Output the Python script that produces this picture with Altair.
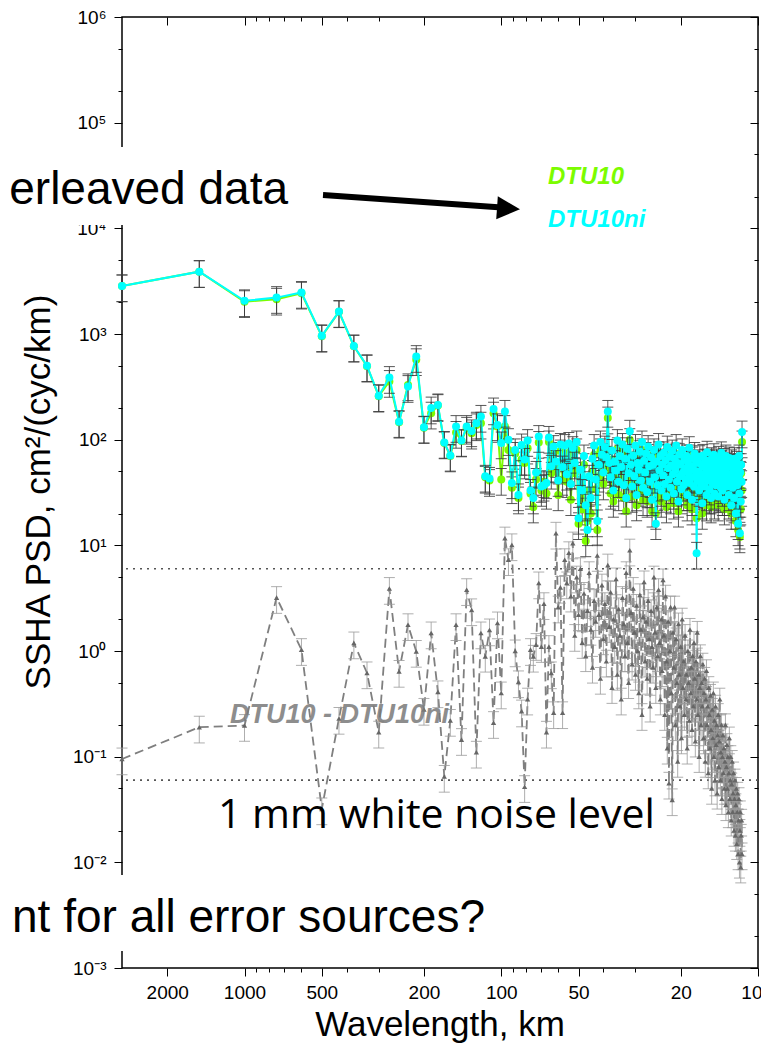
import altair as alt
import pandas as pd

# ---------------------------------------------------------------- data
RECORD_KM = 3000.0  # spectral estimates sit at wavelengths RECORD_KM / k

DTU10 = [
    2850, 3890, 2020, 2130, 2430, 950, 1620, 765, 495, 258,
    355, 146, 330, 570, 130, 178, 210, 93, 70, 117,
    97, 128, 115, 138, 143, 44, 41, 178, 133, 42,
    133, 80, 35, 74, 28, 65, 60, 83, 31, 23,
    42, 94, 33, 40, 31, 95, 48,
    74, 55, 30, 78, 42, 70, 40, 75, 27, 66,
    48, 80, 16, 35, 22, 58, 11, 17, 33, 20,
    50, 72, 34, 14, 45, 80, 55, 38, 68, 57,
    160, 52, 31, 65, 26, 50, 44, 82, 30, 58,
    43, 76, 28, 55, 21, 70, 40, 100, 47, 29,
    60, 36, 72, 24, 49, 43, 64, 33, 80, 27,
    52, 40, 62, 26, 71, 46, 32, 56, 21, 48,
    66, 36, 20, 51, 30, 75, 42, 58, 26, 47,
    38, 62, 31, 53, 23, 71, 45, 34, 57, 28,
    47, 65, 38, 25, 55, 43, 73, 33, 50, 21,
    60, 37, 48, 28, 66, 40, 30, 54, 44, 34,
    58, 24, 50, 39, 70, 32, 46, 36, 22, 55,
    43, 29, 61, 37, 50, 18, 34, 52, 41, 27,
    57, 39, 31, 48, 20, 59, 35, 46, 29, 53,
    40, 24, 63, 34, 47, 38, 28, 51, 43, 23,
    55, 32, 45, 37, 60, 25, 40, 49, 30, 53,
    36, 46, 24, 56, 41, 33, 50, 29, 62, 38,
    27, 48, 36, 54, 22, 43, 31, 58, 40, 30,
    50, 35, 45, 25, 55, 39, 32, 47, 20, 52,
    37, 29, 48, 41, 23, 55, 34, 45, 17, 40,
    50, 31, 43, 14, 36, 58, 26, 12, 41, 22,
    48, 33, 95,
]

DTU10NI = [
    2850, 3890, 2060, 2210, 2470, 960, 1630, 770, 500, 260,
    387, 148, 318, 611, 131, 199, 213, 94, 71, 133,
    98, 133, 121, 143, 166, 45, 43, 195, 138, 93,
    185, 100, 39, 80, 30, 89, 65, 98, 33, 28,
    49, 107, 36, 37, 39, 105, 56,
    86, 62, 41, 90, 55, 88, 47, 92, 38, 84,
    60, 95, 18, 52, 33, 70, 24, 14, 45, 28,
    66, 88, 42, 17, 58, 95, 72, 49, 85, 68,
    185, 60, 44, 79, 33, 62, 51, 98, 40, 70,
    55, 90, 37, 66, 28, 82, 48, 120, 58, 36,
    71, 45, 88, 30, 60, 52, 77, 41, 95, 35,
    63, 49, 74, 32, 86, 56, 40, 68, 27, 58,
    80, 44, 16, 62, 37, 90, 51, 70, 33, 58,
    46, 75, 38, 64, 29, 85, 54, 42, 69, 35,
    57, 78, 47, 31, 66, 52, 88, 40, 60, 26,
    72, 45, 58, 34, 80, 49, 37, 65, 53, 42,
    70, 30, 61, 48, 84, 39, 56, 44, 27, 67,
    52, 36, 74, 45, 60, 8.4, 41, 63, 50, 33,
    69, 47, 38, 58, 25, 71, 43, 55, 36, 64,
    49, 30, 76, 41, 57, 46, 34, 62, 52, 28,
    66, 39, 54, 45, 72, 31, 48, 59, 37, 64,
    43, 56, 29, 68, 50, 40, 61, 35, 75, 46,
    33, 58, 44, 65, 27, 52, 38, 70, 48, 36,
    60, 42, 55, 30, 67, 47, 39, 57, 24, 63,
    45, 35, 58, 50, 28, 66, 41, 54, 20, 48,
    61, 37, 52, 16, 44, 70, 31, 13, 49, 26,
    58, 40, 118,
]

DIFF = [
    0.095, 0.19, 0.197, 3.2, 1.03, 0.032, 0.23, 1.19, 0.62, 0.17,
    3.9, 0.64, 1.77, 0.99, 0.28, 1.48, 0.41, 0.065, 0.22, 1.77,
    0.145, 3.8, 2.45, 0.11, 1.48, 0.89, 1.58, 0.21, 1.84, 0.40,
    11.7, 7.3, 10.1, 1.0, 0.51, 0.27, 0.052, 0.35, 1.03, 0.89,
    1.15, 4.4, 1.1, 2.8, 0.17, 1.1, 0.62, 0.26, 13, 2.6,
    4.0, 0.26, 7.3, 4.4, 8.5, 3.3, 10.5, 1.4, 5.0, 2.2,
    6.0, 1.2, 3.5, 0.9, 2.4, 5.5, 1.6, 0.7, 3.0, 1.9,
    8.0, 2.2, 0.55, 4.2, 1.3, 2.8, 0.8, 6.5, 1.7, 3.6,
    0.45, 2.0, 1.1, 4.8, 0.6, 2.5, 1.4, 0.35, 3.2, 1.8,
    0.9, 5.5, 1.2, 0.5, 9.0, 2.3, 0.75, 3.9, 1.5, 0.6,
    2.7, 1.0, 0.4, 3.4, 1.6, 0.25, 2.1, 4.5, 0.8, 1.9,
    0.55, 3.0, 1.3, 0.3, 2.4, 1.1, 0.7, 5.0, 1.5, 0.45,
    2.6, 0.9, 3.8, 1.2, 0.35, 2.0, 0.65, 4.7, 1.4, 0.25,
    3.3, 0.8, 0.12, 1.9, 0.056, 1.0, 2.6, 0.4, 0.039, 1.5,
    0.7, 2.6, 0.2, 1.3, 0.5, 0.09, 1.8, 0.6, 0.3, 1.1,
    0.15, 2.0, 0.45, 0.8, 0.25, 1.4, 0.35, 0.6, 0.12, 1.0,
    0.5, 0.22, 1.6, 0.4, 0.7, 0.18, 0.9, 0.3, 1.2, 0.55,
    0.14, 0.8, 0.35, 1.5, 0.25, 0.6, 0.1, 0.45, 0.9, 0.2,
    0.5, 0.3, 0.75, 0.15, 0.4, 0.55, 0.09, 0.35, 0.65, 0.2,
    0.3, 0.07, 0.45, 0.25, 0.12, 0.38, 0.18, 0.05, 0.28, 0.15,
    0.4, 0.1, 0.22, 0.06, 0.3, 0.13, 0.2, 0.045, 0.16, 0.25,
    0.08, 0.14, 0.35, 0.06, 0.11, 0.2, 0.04, 0.1, 0.16, 0.07,
    0.12, 0.05, 0.09, 0.2, 0.035, 0.08, 0.13, 0.05, 0.1, 0.03,
    0.07, 0.15, 0.04, 0.06, 0.1, 0.025, 0.055, 0.09, 0.03, 0.045,
    0.07, 0.02, 0.04, 0.06, 0.018, 0.035, 0.05, 0.015, 0.03, 0.045,
    0.012, 0.025, 0.04, 0.01, 0.02, 0.03, 0.009, 0.018, 0.025, 0.012,
]

SERIES = ["DTU10", "DTU10ni", "DTU10 - DTU10ni"]
NOISE_LEVELS = [6.0, 0.06]
CI_LOW, CI_HIGH = 0.71, 1.27

X_MAJOR = [2000, 1000, 500, 200, 100, 50, 20, 10]
X_MINOR = [900, 800, 700, 600, 400, 300, 90, 80, 70, 60, 40, 30]
Y_MAJOR = [1e-3, 1e-2, 1e-1, 1e0, 1e1, 1e2, 1e3, 1e4, 1e5, 1e6]
Y_MINOR = [m * d for d in Y_MAJOR[:-1] for m in (2, 5)]

TITLE_X = "Wavelength, km"
TITLE_Y = "SSHA PSD, cm²/(cyc/km)"
SLIDE_TOP = "erleaved data"
SLIDE_BOTTOM = "nt for all error sources?"
NOISE_TEXT = "1 mm white noise level"

rows = []
for name, vals in zip(SERIES, [DTU10, DTU10NI, DIFF]):
    for k, v in enumerate(vals, start=1):
        rows.append({"series": name, "wl": RECORD_KM / k, "psd": v})
df = pd.DataFrame(rows)

# ---------------------------------------------------------------- scales / axes
XS = alt.Scale(type="log", domain=[10, 3000], reverse=True, nice=False)
YS = alt.Scale(type="log", domain=[1e-3, 1e6], nice=False)

FONT = "Liberation Sans"
SUP = "['⁻³','⁻²','⁻¹','⁰','¹','²','³','⁴','⁵','⁶'][round(log(datum.value)/LN10)+3]"

common = dict(domain=False, grid=False, title=None, tickColor="black", tickWidth=1)
axdf = pd.DataFrame({"wl": [100.0], "psd": [1.0]})


def axis_layer(xaxis, yaxis):
    return alt.Chart(axdf).mark_point(opacity=0).encode(
        x=alt.X("wl:Q", scale=XS, axis=xaxis),
        y=alt.Y("psd:Q", scale=YS, axis=yaxis),
    )


lab = dict(labelFont=FONT, labelFontSize=19, labelColor="black",
           labelFlush=False, labelOverlap=False, labelBound=False)

ax1 = axis_layer(
    alt.Axis(orient="bottom", values=X_MAJOR, format="d", tickSize=8, labelPadding=7,
             labelAlign=alt.condition("datum.value == 10", alt.value("right"), alt.value("center")),
             labelOffset=alt.condition("datum.value == 10", alt.value(4), alt.value(0)),
             **lab, **common),
    alt.Axis(orient="left", values=Y_MAJOR, labelExpr="'10' + " + SUP, tickSize=8, labelPadding=8, **lab, **common),
)
ax2 = axis_layer(
    alt.Axis(orient="bottom", values=X_MINOR, labels=False, tickSize=4, **common),
    alt.Axis(orient="left", values=Y_MINOR, labels=False, tickSize=4, **common),
)
ax3 = axis_layer(
    alt.Axis(orient="top", offset=-8, values=X_MAJOR, labels=False, tickSize=8, **common),
    alt.Axis(orient="right", offset=-8, values=Y_MAJOR, labels=False, tickSize=8, **common),
)
ax4 = axis_layer(
    alt.Axis(orient="top", offset=-4, values=X_MINOR, labels=False, tickSize=4, **common),
    alt.Axis(orient="right", offset=-4, values=Y_MINOR, labels=False, tickSize=4, **common),
)

# ---------------------------------------------------------------- data layers
base = alt.Chart(df).transform_calculate(
    lo=f"datum.psd * {CI_LOW}", hi=f"datum.psd * {CI_HIGH}"
)
X = alt.X("wl:Q", scale=XS, axis=None)


def Y(field):
    return alt.Y(f"{field}:Q", scale=YS, axis=None)


def series_layers(name, bar_color, bar_opacity, line_mark, point_mark):
    s = base.transform_filter(alt.datum.series == name)
    bar = s.mark_rule(color=bar_color, strokeWidth=1, opacity=bar_opacity).encode(
        x=X, y=Y("lo"), y2="hi:Q")
    cap_hi = s.mark_tick(orient="horizontal", size=11, thickness=1, color=bar_color,
                         opacity=bar_opacity).encode(x=X, y=Y("hi"))
    cap_lo = s.mark_tick(orient="horizontal", size=11, thickness=1, color=bar_color,
                         opacity=bar_opacity).encode(x=X, y=Y("lo"))
    line = line_mark(s).encode(x=X, y=Y("psd"))
    pts = point_mark(s).encode(x=X, y=Y("psd"))
    return [line, bar, cap_hi, cap_lo, pts]


diff_layers = series_layers(
    "DTU10 - DTU10ni", "#9a9a9a", 0.8,
    lambda s: s.mark_line(color="#7f7f7f", strokeWidth=1.8, strokeDash=[9, 5]),
    lambda s: s.mark_point(shape="triangle-up", filled=True, size=28, color="#666666", opacity=1),
)
green_layers = series_layers(
    "DTU10", "#3a3a3a", 0.85,
    lambda s: s.mark_line(color="#7CFC00", strokeWidth=2),
    lambda s: s.mark_circle(size=64, color="#7CFC00", opacity=1),
)
cyan_layers = series_layers(
    "DTU10ni", "#3a3a3a", 0.85,
    lambda s: s.mark_line(color="#00FFFF", strokeWidth=2),
    lambda s: s.mark_circle(size=64, color="#00FFFF", opacity=1),
)

noise = alt.Chart(pd.DataFrame({"psd": NOISE_LEVELS})).mark_rule(
    color="#555555", strokeDash=[2, 5], strokeWidth=1.6
).encode(y=Y("psd"))

# ---------------------------------------------------------------- annotations
one = pd.DataFrame({"k": [0]})


def white_box(x, x2, y, y2):
    return alt.Chart(one).mark_rect(color="white").encode(
        x=alt.value(x), x2=alt.value(x2), y=alt.value(y), y2=alt.value(y2))


def label(text, x, y, **kw):
    return alt.Chart(pd.DataFrame({"t": [text]})).mark_text(**kw).encode(
        text="t:N", x=alt.value(x), y=alt.value(y))


box_top = white_box(-122, 188, 130, 208)
box_bottom = white_box(-122, 368, 858, 934)

arrow_shaft = alt.Chart(one).mark_rule(color="black", strokeWidth=6).encode(
    x=alt.value(201), x2=alt.value(387), y=alt.value(178), y2=alt.value(191))
arrow_head = alt.Chart(one).mark_point(
    shape="M -1 -1 L 1 0 L -1 1 Z", filled=True, color="black", opacity=1, size=529, angle=4
).encode(x=alt.value(386.5), y=alt.value(191.5))

texts = [
    label(TITLE_Y, -72, 475, angle=270, align="center", baseline="alphabetic",
          font=FONT, fontSize=35, color="black"),
    label(TITLE_X, 318, 1019, align="center", baseline="alphabetic",
          font=FONT, fontSize=35, color="black"),
    label(SLIDE_TOP, 166, 187, align="right", baseline="alphabetic",
          font=FONT, fontSize=46, color="black"),
    label(SLIDE_BOTTOM, 363, 915, align="right", baseline="alphabetic",
          font=FONT, fontSize=46, color="black"),
    label(NOISE_TEXT, 96, 811, align="left", baseline="alphabetic",
          font="Open Sans", fontSize=41, color="black"),
    label(SERIES[0], 426, 167, align="left", baseline="alphabetic", font=FONT,
          fontSize=24, fontWeight="bold", fontStyle="italic", color="#7CFC00"),
    label(SERIES[1], 426, 210, align="left", baseline="alphabetic", font=FONT,
          fontSize=24, fontWeight="bold", fontStyle="italic", color="#00FFFF"),
    label(SERIES[2], 108, 706, align="left", baseline="alphabetic", font=FONT,
          fontSize=27, fontWeight="bold", fontStyle="italic", color="#7a7a7a", opacity=0.85),
]

layers = ([ax1, ax2, ax3, ax4, noise] + diff_layers + green_layers + cyan_layers
          + [box_top, box_bottom, arrow_shaft, arrow_head] + texts)

chart = (
    alt.layer(*layers)
    .resolve_axis(x="independent", y="independent")
    .properties(
        width=636,
        height=951,
        autosize=alt.AutoSizeParams(type="none"),
        padding={"left": 114, "top": 9, "right": 3, "bottom": 75},
        background="white",
    )
    .configure_view(stroke="black", strokeWidth=1.5)
)

chart.save("out.html", embed_options={"renderer": "svg", "actions": False})
